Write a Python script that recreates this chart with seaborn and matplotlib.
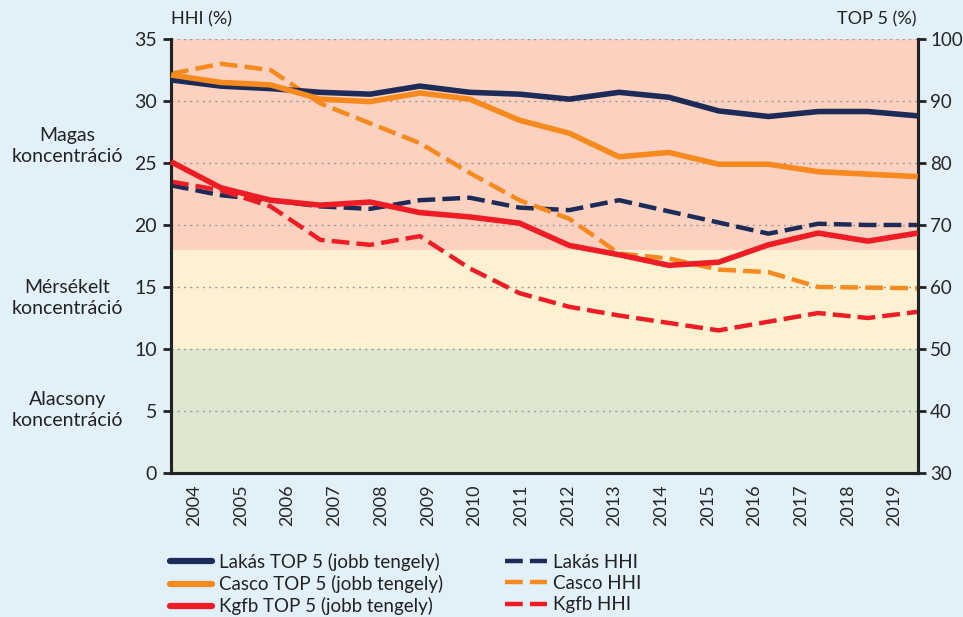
import numpy as np
import pandas as pd
import matplotlib
matplotlib.use("Agg")
import matplotlib.pyplot as plt
import seaborn as sns
from matplotlib.lines import Line2D

years = ["2004", "2005", "2006", "2007", "2008", "2009", "2010", "2011",
         "2012", "2013", "2014", "2015", "2016", "2017", "2018", "2019"]

lakas_top5 = [93.4, 92.4, 92.0, 91.4, 91.1, 92.4, 91.4, 91.1,
              90.3, 91.4, 90.6, 88.4, 87.5, 88.3, 88.3, 87.6]
casco_top5 = [94.2, 93.0, 92.6, 90.3, 89.9, 91.3, 90.3, 86.9,
              84.8, 81.0, 81.7, 79.8, 79.8, 78.6, 78.2, 77.8]
kgfb_top5 = [80.2, 76.0, 74.0, 73.2, 73.7, 72.0, 71.3, 70.3,
             66.7, 65.2, 63.5, 64.0, 66.8, 68.7, 67.4, 68.7]

lakas_hhi = [23.2, 22.4, 22.0, 21.5, 21.3, 22.0, 22.2, 21.4,
             21.2, 22.0, 21.1, 20.2, 19.3, 20.1, 20.0, 20.0]
casco_hhi = [32.2, 33.0, 32.5, 29.8, 28.2, 26.6, 24.2, 22.0,
             20.5, 17.7, 17.3, 16.4, 16.2, 15.0, 14.95, 14.9]
kgfb_hhi = [23.5, 22.8, 21.5, 18.8, 18.4, 19.1, 16.5, 14.5,
            13.4, 12.7, 12.1, 11.5, 12.2, 12.9, 12.5, 13.0]

zones = ["Magas\nkoncentráció", "Mérsékelt\nkoncentráció", "Alacsony\nkoncentráció"]
zone_bounds = [(18, 35), (10, 18), (0, 10)]
zone_label_y = [26.4, 14.1, 5.1]

NAVY = "#1c2b57"
ORANGE = "#f68a1f"
RED = "#ee1d25"
BG = "#e1f0f9"
zone_colors = ["#fdd1bf", "#fef1d1", "#e0e7d0"]

sns.set_theme(style="white")
plt.rcParams["font.family"] = ["Lato", "DejaVu Sans"]
plt.rcParams["text.color"] = "#222222"

fig = plt.figure(figsize=(9.63, 6.17), dpi=100)
fig.patch.set_facecolor(BG)
ax = fig.add_axes([0.1776, 0.2334, 0.7754, 0.7034])
ax2 = ax.twinx()

x = np.arange(len(years))
df = pd.DataFrame({"x": x, "lakas_top5": lakas_top5, "casco_top5": casco_top5,
                   "kgfb_top5": kgfb_top5, "lakas_hhi": lakas_hhi,
                   "casco_hhi": casco_hhi, "kgfb_hhi": kgfb_hhi})

# zones
for (lo, hi), c in zip(zone_bounds, zone_colors):
    ax.axhspan(lo, hi, color=c, zorder=0, lw=0)
for yv in range(5, 36, 5):
    ax.axhline(yv, color="#9a9a9a", lw=1.0, ls=(0, (1.5, 3)), zorder=1)

# HHI dashed on left axis
dash = (0, (4.0, 1.6))
for col, c in [("lakas_hhi", NAVY), ("casco_hhi", ORANGE), ("kgfb_hhi", RED)]:
    sns.lineplot(data=df, x="x", y=col, ax=ax, color=c, lw=3.2, zorder=3)
    ax.lines[-1].set_linestyle(dash)
    ax.lines[-1].set_clip_on(False)

# TOP5 solid on right axis
for col, c in [("lakas_top5", NAVY), ("casco_top5", ORANGE), ("kgfb_top5", RED)]:
    sns.lineplot(data=df, x="x", y=col, ax=ax2, color=c, lw=4.0, zorder=3)
    ax2.lines[-1].set_clip_on(False)
    ax2.lines[-1].set_solid_capstyle("butt")

n = len(years)
ax.set_xlim(0, n - 1)
ax.set_ylim(0, 35)
ax2.set_ylim(30, 100)
ax.set_xlabel("")
ax.set_ylabel("")
ax2.set_ylabel("")

ax.set_yticks(range(0, 36, 5))
ax2.set_yticks(range(30, 101, 10))

bounds = np.linspace(0, n - 1, n + 1)
centers = (bounds[:-1] + bounds[1:]) / 2
ax.set_xticks(bounds)
ax.set_xticklabels([])
ax.set_xticks(centers, minor=True)
ax.set_xticklabels(years, minor=True, rotation=90, fontsize=13)
ax.tick_params(axis="x", which="major", length=6, width=2, color="#222222", direction="out")
ax.tick_params(axis="x", which="minor", length=0, pad=8)
ax.tick_params(axis="y", length=6, width=2, color="#222222", labelsize=14, direction="out", pad=4)
ax2.tick_params(axis="y", length=6, width=2, color="#222222", labelsize=13.5, direction="out", pad=3)

for a in (ax, ax2):
    a.set_facecolor("none")
    a.spines["top"].set_visible(False)
    for s in ("left", "right", "bottom"):
        a.spines[s].set_color("#222222")
        a.spines[s].set_linewidth(2.2)
ax.patch.set_visible(False)

fig.text(0.1776, 0.968, "HHI (%)", fontsize=13, ha="left", va="center")
fig.text(0.952, 0.968, "TOP 5 (%)", fontsize=13, ha="right", va="center")

for lab, yv in zip(zones, zone_label_y):
    ypix = ax.transData.transform((0, yv))[1]
    yfig = fig.transFigure.inverted().transform((0, ypix))[1]
    fig.text(0.07, yfig, lab, fontsize=14, ha="center", va="center", linespacing=1.3)

handles = [
    Line2D([], [], color=NAVY, lw=4.5, label="Lakás TOP 5 (jobb tengely)"),
    Line2D([], [], color=ORANGE, lw=4.5, label="Casco TOP 5 (jobb tengely)"),
    Line2D([], [], color=RED, lw=4.5, label="Kgfb TOP 5 (jobb tengely)"),
    Line2D([], [], color=NAVY, lw=3.2, ls=(0, (4.0, 1.6)), label="Lakás HHI"),
    Line2D([], [], color=ORANGE, lw=3.2, ls=(0, (4.0, 1.6)), label="Casco HHI"),
    Line2D([], [], color=RED, lw=3.2, ls=(0, (4.0, 1.6)), label="Kgfb HHI"),
]
fig.legend(handles=handles, ncol=2, loc="upper left", bbox_to_anchor=(0.1765, 0.104),
           frameon=False, fontsize=13.5, handlelength=2.25, handletextpad=0.35,
           columnspacing=3.3, labelspacing=0.22, borderaxespad=0, borderpad=0)

fig.savefig("out.png", dpi=100, facecolor=BG)
